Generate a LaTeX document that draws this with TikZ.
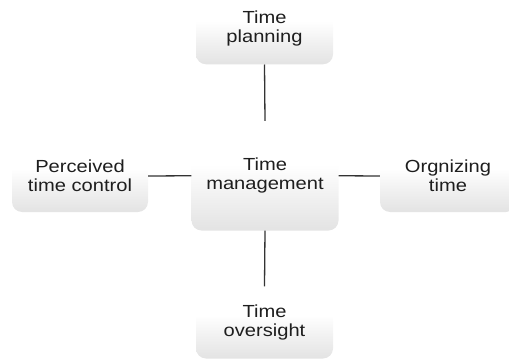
\documentclass[tikz,border=0pt]{standalone}
\usepackage{fontspec}
\newfontfamily\boxfont[FakeStretch=1.15]{Liberation Sans}
\usetikzlibrary{shadings}
\pgfdeclareverticalshading{boxshade}{100bp}{color(0bp)=(black!11); color(25bp)=(black!11); color(42bp)=(black!5); color(55bp)=(white); color(100bp)=(white)}
\definecolor{txt}{HTML}{1E1E1E}
\definecolor{ln}{HTML}{333333}
\tikzset{
  box/.style={rectangle, rounded corners=10pt, shading=boxshade, shading angle=0,
    align=center, inner sep=0pt, text=txt,
    font=\boxfont\fontsize{17.5}{19}\selectfont},
  small/.style={box, minimum width=137pt, minimum height=72pt},
  link/.style={draw=ln, line width=1.3pt}
}
\begin{document}
\begin{tikzpicture}[x=1pt,y=1pt]
\useasboundingbox (0,0) rectangle (509,360);
\node[small] (plan) at (264.5,331.7) {Time\\planning};
\node[box, minimum width=147pt, minimum height=109.5pt] (tm) at (265,184.25) {Time\\management};
\node[small, minimum width=136pt] (perc) at (80,184) {Perceived\\time control};
\node[small, minimum width=136pt] (org) at (448,184) {Orgnizing\\time};
\node[small] (over) at (264.5,37.5) {Time\\oversight};
\draw[link] (plan.south) -- (tm.north);
\draw[link] (tm.south) -- (over.north);
\draw[link] (perc.east) -- (tm.west);
\draw[link] (tm.east) -- (org.west);
\end{tikzpicture}
\end{document}
